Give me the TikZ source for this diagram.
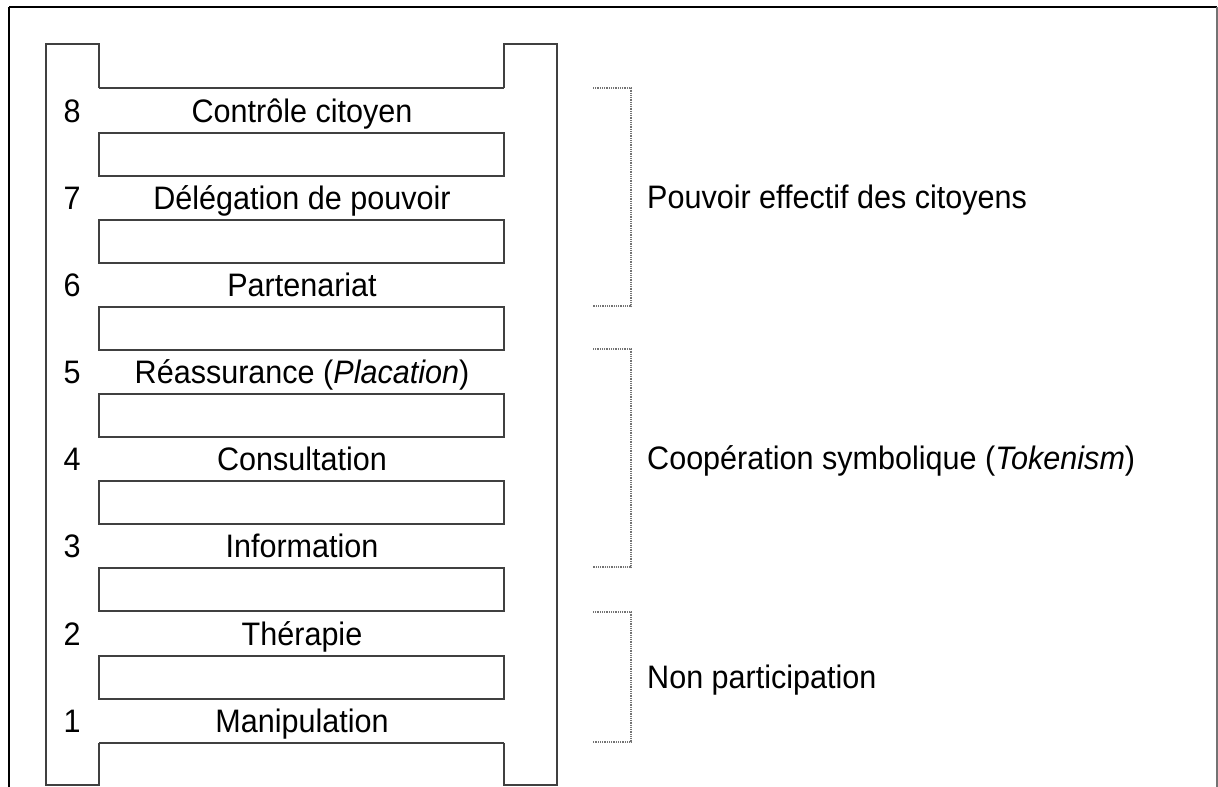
\documentclass[tikz,border=0pt]{standalone}
\usepackage{fontspec}
\setmainfont{Liberation Sans}[FakeStretch=0.94]
\begin{document}
\begin{tikzpicture}[x=1pt,y=-1pt,
  rail/.style={draw=black!75,line width=2pt},
  brace/.style={draw=black!55,line width=1.3pt,dash pattern=on 1pt off 0.8pt},
  lbl/.style={inner sep=0pt,anchor=base,font=\fontsize{32.5}{38}\selectfont},
  side/.style={inner sep=0pt,anchor=base west,font=\fontsize{32.5}{38}\selectfont}]
\useasboundingbox (0,0) rectangle (1218,787);
% outer frame
\draw[black,line width=2.8pt] (9,7) -- (1217,7);
\draw[black,line width=1.6pt] (9,7) -- (9,787);
\draw[black!55,line width=1.6pt] (1217,7) -- (1217,787);
% ladder rails
\draw[rail] (99,88) -- (99,44) -- (46,44) -- (46,785) -- (99,785) -- (99,743);
\draw[rail] (504,88) -- (504,44) -- (557,44) -- (557,785) -- (504,785) -- (504,743);
\draw[rail] (99,88) -- (504,88);
\draw[rail] (99,743) -- (504,743);
% rungs
\foreach \t in {133,220,307,394,481,568,656}
  \draw[rail] (99,\t) rectangle (504,\t+43);
% numbers and labels
\foreach \n/\c/\txt in {8/110.5/{Contrôle citoyen},7/197.5/{Délégation de pouvoir},6/285/{Partenariat},5/372/{Réassurance (\textit{Placation})},4/459/{Consultation},3/546/{Information},2/633.5/{Thérapie},1/721/{Manipulation}}{
  \node[lbl] (n\n) at (72,\c+11.5) {\n};
  \node[lbl] (l\n) at (302,\c+11.5) {\txt};
}
% brackets
\draw[brace] (593,88) -- (631,88) -- (631,306) -- (593,306);
\draw[brace] (593,349) -- (631,349) -- (631,567) -- (593,567);
\draw[brace] (593,612) -- (631,612) -- (631,742) -- (593,742);
\node[side] (g1) at (647,208.5) {Pouvoir effectif des citoyens};
\node[side] (g2) at (647,469.5) {Coopération symbolique (\textit{Tokenism})};
\node[side] (g3) at (647,688.5) {Non participation};
\end{tikzpicture}
\end{document}
